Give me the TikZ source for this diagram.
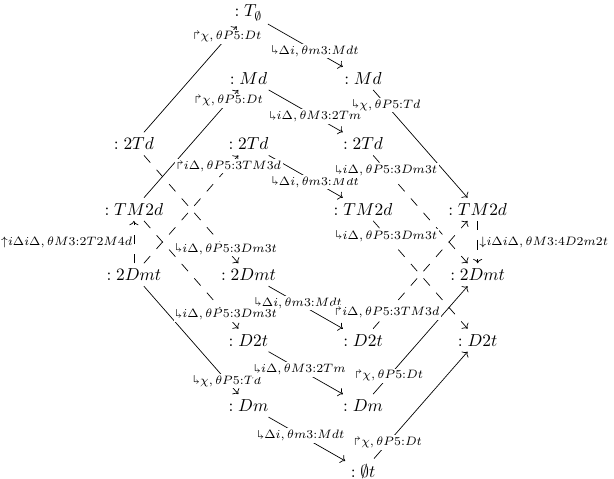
\documentclass[tikz,border=0pt]{standalone}
\usepackage{amsmath,amssymb}
\usepackage{graphicx}
\usepackage{tikz}
\usetikzlibrary{arrows.meta, positioning}
\newcommand{\dnsh}{\mathord{\rotatebox[origin=c]{180}{$\Lsh$}}}
\newcommand{\upsh}{\mathord{\Rsh}}
\tikzset{
    obj/.style={inner sep=3pt},
    lab/.style={fill=white, inner sep=1pt, font=\scriptsize},
    sidelab/.style={inner sep=0.8pt, font=\scriptsize},
    arrow/.style={-{Computer Modern Rightarrow}},
    dashedarrow/.style={-{Computer Modern Rightarrow}, dash pattern=on 5.5pt off 5.5pt},
}

\begin{document}
\begin{tikzpicture}[node distance=1.325cm and 2.32cm, on grid]
    \useasboundingbox (-5.03,0.262) rectangle (7.40,-9.43);

    % OBJECTS
    \node[obj] (tnull) {$:T_\emptyset$};
    \node[obj, below=of tnull] (mda) {$:Md$};
    \node[obj, below right=of tnull] (mdb) {$:Md$};
    \node[obj, below left=of mda] (ttda) {$:2Td$};
    \node[obj, below=of mda] (ttdb) {$:2Td$};
    \node[obj, below=of mdb] (ttdc) {$:2Td$};
    \node[obj, below=of ttda] (tmda) {$:TM2d$};
    \node[obj, below=of ttdc] (tmdb) {$:TM2d$};
    \node[obj, below right=of ttdc] (tmdc) {$:TM2d$};
    \node[obj, below=of tmda] (dmta) {$:2Dmt$};
    \node[obj, below right=of tmda] (dmtb) {$:2Dmt$};
    \node[obj, below=of tmdc] (dmtc) {$:2Dmt$};
    \node[obj, below=of dmtb] (dta) {$:D2t$};
    \node[obj, below right=of dmtb] (dtb) {$:D2t$};
    \node[obj, below=of dmtc] (dtc) {$:D2t$};
    \node[obj, below=of dta] (dma) {$:Dm$};
    \node[obj, below=of dtb] (dmb) {$:Dm$};
    \node[obj, below=of dmb] (nullt) {$:\emptyset t$};

    % Solid arrows
    \draw[arrow] (tnull) -- node[lab, pos=0.63] {$\dnsh\Delta i,\theta m3{:}Mdt$} (mdb);
    \draw[arrow] (ttda) -- node[lab, pos=0.9] {$\upsh\chi,\theta P5{:}Dt$} (tnull);
    \draw[arrow] (tmda) -- node[lab, pos=0.9] {$\upsh\chi,\theta P5{:}Dt$} (mda);
    \draw[arrow] (mda) -- node[lab, pos=0.63] {$\dnsh i\Delta,\theta M3{:}2Tm$} (ttdc);
    \draw[arrow] (mdb) -- node[lab, pos=0.14] {$\dnsh\chi,\theta P5{:}Td$} (tmdc);
    \draw[arrow] (ttdb) -- node[lab, pos=0.63] {$\dnsh\Delta i,\theta m3{:}Mdt$} (tmdb);
    \draw[arrow] (dmtb) -- node[lab, pos=0.4] {$\dnsh\Delta i,\theta m3{:}Mdt$} (dtb);
    \draw[arrow] (dmta) -- node[lab, pos=0.88] {$\dnsh\chi,\theta P5{:}Td$} (dma);
    \draw[arrow] (dta) -- node[lab, pos=0.42] {$\dnsh i\Delta,\theta M3{:}2Tm$} (dmb);
    \draw[arrow] (dmb) -- node[lab, pos=0.17] {$\upsh\chi,\theta P5{:}Dt$} (dmtc);
    \draw[arrow] (nullt) -- node[lab, pos=0.15] {$\upsh\chi,\theta P5{:}Dt$} (dtc);
    \draw[arrow] (dma) -- node[lab, pos=0.42] {$\dnsh\Delta i,\theta m3{:}Mdt$} (nullt);

    % Dashed arrows
    \draw[dashedarrow] (dmta) -- node[lab, pos=0.9] {$\upsh i\Delta,\theta P5{:}3TM3d$} (ttdb);
    \draw[dashedarrow] (ttda) -- node[lab, pos=0.87] {$\dnsh i\Delta,\theta P5{:}3Dm3t$} (dmtb);
    \draw[dashedarrow] (tmda) -- node[lab, pos=0.87] {$\dnsh i\Delta,\theta P5{:}3Dm3t$} (dta);
    \draw[dashedarrow] (dmta) -- node[sidelab, left] {$\mathord{\uparrow}i\Delta i\Delta,\theta M3{:}2T2M4d$} (tmda);
    \draw[dashedarrow] (ttdc) -- node[lab, pos=0.14] {$\dnsh i\Delta,\theta P5{:}3Dm3t$} (dmtc);
    \draw[dashedarrow] (tmdb) -- node[lab, pos=0.14] {$\dnsh i\Delta,\theta P5{:}3Dm3t$} (dtc);
    \draw[dashedarrow] (dtb) -- node[lab, pos=0.15] {$\upsh i\Delta,\theta P5{:}3TM3d$} (tmdc);
    \draw[dashedarrow] (tmdc) -- node[sidelab, right] {$\mathord{\downarrow}i\Delta i\Delta,\theta M3{:}4D2m2t$} (dmtc);

\end{tikzpicture}
\end{document}
